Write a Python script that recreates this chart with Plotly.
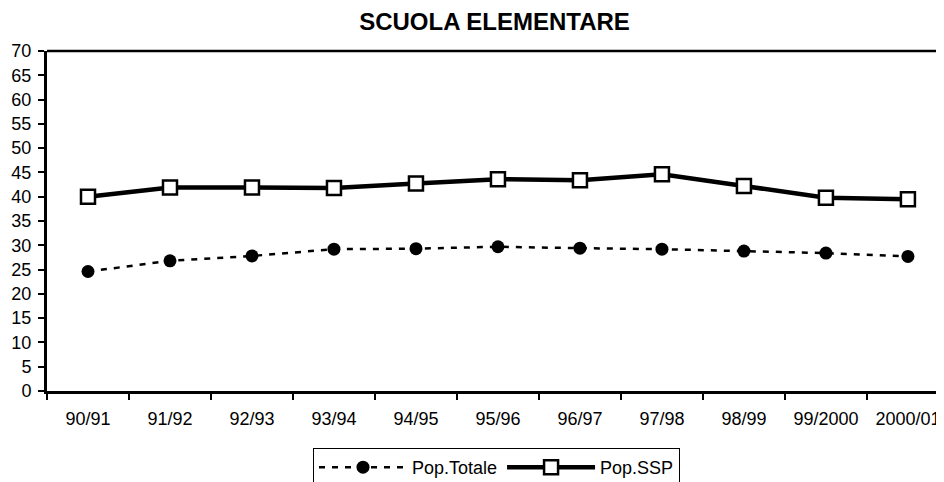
import plotly.graph_objects as go

categories = ["90/91", "91/92", "92/93", "93/94", "94/95", "95/96",
              "96/97", "97/98", "98/99", "99/2000", "2000/01"]
pop_totale = [24.6, 26.8, 27.8, 29.2, 29.3, 29.7, 29.4, 29.2, 28.8, 28.4, 27.7]
pop_ssp = [40.0, 41.9, 41.9, 41.8, 42.7, 43.6, 43.4, 44.6, 42.2, 39.8, 39.5]
y_ticks = list(range(0, 71, 5))

FONT = "Liberation Sans, Arial, sans-serif"
W, H = 936, 474  # page adds an 8px body margin

fig = go.Figure()
fig.add_trace(go.Scatter(
    x=categories, y=pop_totale, name="Pop.Totale", mode="lines+markers",
    line=dict(color="black", width=2.5, dash="6px,7px"),
    marker=dict(symbol="circle", size=13, color="black"),
))
fig.add_trace(go.Scatter(
    x=categories, y=pop_ssp, name="Pop.SSP", mode="lines+markers",
    line=dict(color="black", width=4.5),
    marker=dict(symbol="square", size=14, color="white",
                line=dict(color="black", width=2.5)),
))

fig.update_layout(
    width=W, height=H,
    margin=dict(l=39, r=0, t=43, b=91, autoexpand=False),
    paper_bgcolor="white", plot_bgcolor="white",
    font=dict(family=FONT, size=18, color="black"),
    title=dict(text="<b>SCUOLA ELEMENTARE</b>", x=486.5 / W, xref="container",
               y=1 - 14 / H, yref="container", yanchor="middle", xanchor="center",
               font=dict(family=FONT, size=24, color="black")),
    showlegend=True,
    legend=dict(orientation="h", x=305 / W, y=1 - 440 / H,
                xref="container", yref="container",
                xanchor="left", yanchor="top", bordercolor="black", borderwidth=1,
                bgcolor="white", itemwidth=88, font=dict(family=FONT, size=18),
                tracegroupgap=0),
    xaxis=dict(
        type="category", range=[-0.5, 10.44], showgrid=False, automargin=False,
        showline=True, linecolor="black", linewidth=3,
        ticks="outside", ticklen=6, tickwidth=1.5, tickcolor="black",
        tickson="boundaries", ticklabelstandoff=9,
        tickfont=dict(family=FONT, size=18),
    ),
    yaxis=dict(
        range=[0, 70], tickvals=y_ticks, showgrid=False, zeroline=False,
        automargin=False, ticklabelstandoff=3,
        showline=True, linecolor="black", linewidth=3,
        ticks="outside", ticklen=6, tickwidth=1.5, tickcolor="black",
        tickfont=dict(family=FONT, size=18),
    ),
    shapes=[dict(type="line", xref="paper", yref="paper", x0=0, x1=1, y0=1, y1=1,
                 line=dict(color="black", width=2.5))],
)

fig.write_html("out.html")
